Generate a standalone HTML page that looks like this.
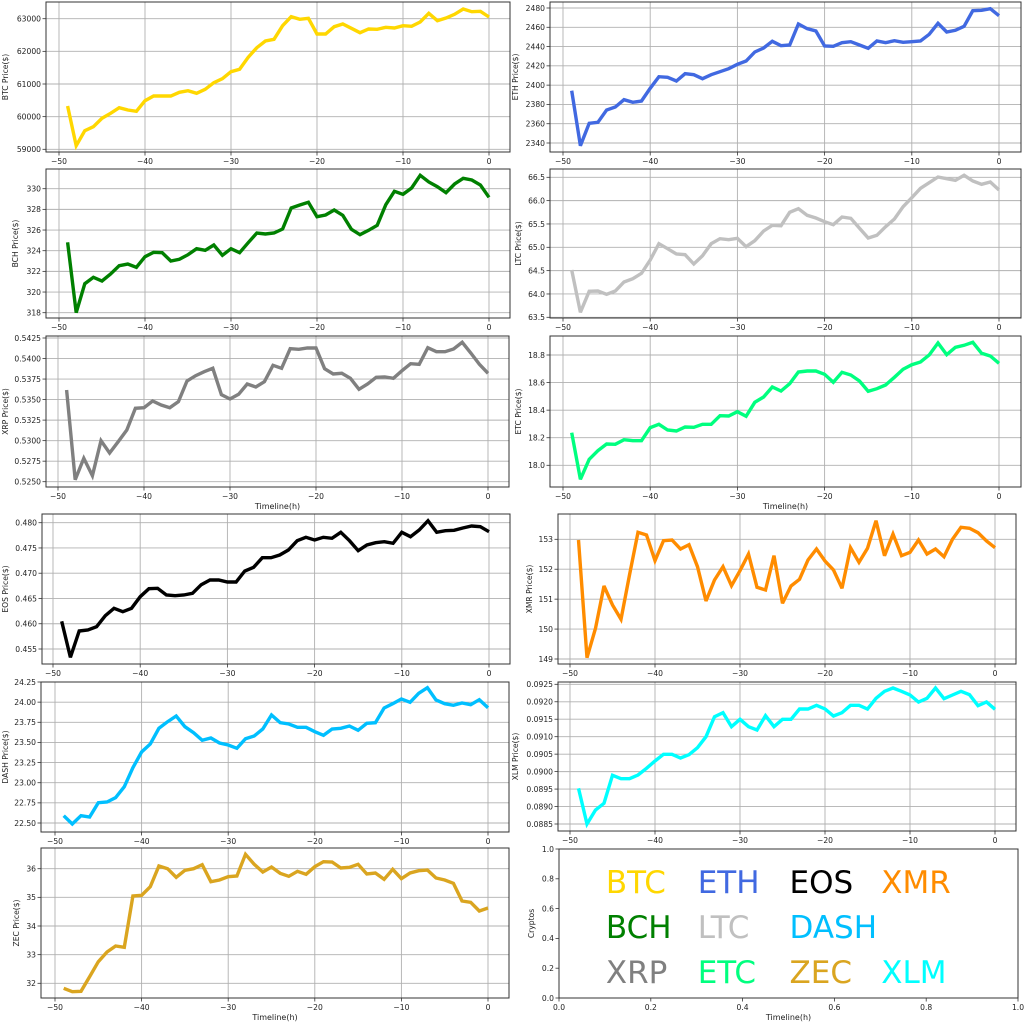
<!DOCTYPE html>
<html><head><meta charset="utf-8"><style>
html,body{margin:0;padding:0;background:#fff;}
svg{display:block;font-family:"DejaVu Sans","Liberation Sans",sans-serif;}
</style></head><body>
<svg id="s" width="1024" height="1024" viewBox="0 0 1024 1024" xmlns="http://www.w3.org/2000/svg"></svg>
<script>
const P=[
{n:"BTC Price($)",c:"#FFD700",box:[46,2,510,152],x50:59,x0:489,off:0,lx:5,
 t:[[59000,149.3],[63000,18.7]],step:1000,fmt:v=>v.toFixed(0),
 d:[318,437,392,380,355,340,323,330,334,302,288,288,288,277,272,280,268,248,236,215,208,172,143,123,118,77,50,58,55,102,102,80,72,85,98,87,88,82,84,77,79,66,40,62,54,43,27,35,34,51]},
{n:"ETH  Price($)",c:"#4169E1",box:[550,2,1021,152],x50:563,x0:999,off:0,lx:515,
 t:[[2340,143],[2480,8]],step:20,fmt:v=>v.toFixed(0),
 d:[272,437,370,367,330,321,299,307,303,265,230,232,243,221,224,236,224,215,206,193,183,156,144,124,137,135,72,86,93,138,139,128,125,135,145,123,128,122,127,125,123,103,70,96,91,79,32,31,26,47]},
{n:"BCH Price($)",c:"#008000",box:[46,169,510,318],x50:59,x0:489,off:0,lx:15,
 t:[[318,312.7],[330,188.7]],step:2,fmt:v=>v.toFixed(0),
 d:[727,938,851,832,843,822,797,792,802,770,757,758,783,778,764,746,751,735,766,746,758,728,699,702,699,687,624,615,607,650,645,630,646,688,704,691,676,614,574,583,564,526,546,560,578,552,535,540,555,592]},
{n:"LTC  Price($)",c:"#C0C0C0",box:[550,169,1021,318],x50:563,x0:999,off:0,lx:518,
 t:[[63.5,317.3],[66.5,177.3]],step:0.5,fmt:v=>v.toFixed(1),
 d:[810,937,874,873,883,873,846,836,820,780,731,746,762,764,792,767,731,716,719,715,740,722,693,676,677,637,626,646,654,665,674,651,655,685,714,706,680,657,620,593,565,548,531,536,541,526,543,553,546,570]},
{n:"XRP Price($)",c:"#808080",box:[46,336,509,487],x50:58,x0:488,off:325,lx:5,xl:1,
 t:[[0.525,481.7],[0.5425,338]],step:0.0025,fmt:v=>v.toFixed(4),
 d:[195,464,400,452,347,384,350,315,250,248,228,240,248,230,168,152,140,130,209,222,208,177,186,170,121,130,71,73,69,69,131,147,145,160,193,177,157,156,160,137,116,118,68,80,80,72,52,84,118,145]},
{n:"ETC  Price($)",c:"#00FF7F",box:[550,336,1021,487],x50:563,x0:999,off:325,lx:518,xl:1,
 t:[[18.0,465.3],[18.8,355]],step:0.2,fmt:v=>v.toFixed(1),
 d:[323,463,403,377,357,358,344,347,347,308,298,315,318,306,307,298,298,272,273,260,274,232,216,186,198,176,141,138,138,148,172,142,150,168,199,191,180,157,133,119,111,90,54,89,67,61,52,85,93,115]},
{n:"EOS  Price($)",c:"#000000",box:[42,514,510,664],x50:53,x0:489,off:480,lx:5,
 t:[[0.455,649],[0.480,522.7]],step:0.005,fmt:v=>v.toFixed(3),
 d:[424,532,453,450,440,407,385,395,385,350,326,325,345,347,345,340,314,300,300,306,306,273,262,233,233,225,210,182,172,180,172,175,157,182,212,195,188,185,190,157,170,150,122,157,152,151,144,138,140,155]},
{n:"XMR  Price($)",c:"#FF8C00",box:[558,514,1016,664],x50:570,x0:995,off:500,lx:529,
 t:[[149,659],[153,539.3]],step:1,fmt:v=>v.toFixed(0),
 d:[120,473,385,258,315,358,225,97,105,182,122,120,147,134,200,303,240,200,257,212,162,262,270,167,310,258,238,180,147,183,210,265,143,187,145,62,167,102,167,157,120,162,147,170,118,82,85,98,123,143]},
{n:"DASH  Price($)",c:"#00BFFF",box:[41,682,509,832],x50:55,x0:488,off:670,lx:5,
 t:[[22.5,823],[24.25,682]],step:0.25,fmt:v=>v.toFixed(2),
 d:[437,462,437,441,398,396,383,350,293,246,222,175,155,138,170,188,211,204,219,225,235,206,198,177,135,158,162,172,172,185,196,177,175,168,181,160,158,114,101,87,97,70,53,90,101,106,99,104,89,113]},
{n:"XLM Price($)",c:"#00FFFF",box:[558,682,1016,831],x50:570,x0:995,off:500,lx:515,
 t:[[0.0885,824],[0.0925,684.3]],step:0.0005,fmt:v=>v.toFixed(4),
 d:[865,972,930,910,826,836,836,825,805,783,763,763,774,764,743,710,650,638,680,658,680,690,647,680,658,658,627,627,616,627,648,638,616,616,627,595,574,564,574,585,606,595,564,596,585,574,584,617,606,628]},
{n:"ZEC Price($)",c:"#DAA520",box:[41,848,509,998],x50:55,x0:488,off:670,lx:16,xl:1,
 t:[[32,983.3],[36,868.7]],step:1,fmt:v=>v.toFixed(0),
 d:[955,965,964,920,875,846,828,832,678,676,650,588,596,622,601,596,584,635,630,620,618,553,583,606,591,610,619,604,613,590,575,576,594,592,583,612,609,628,598,626,609,602,600,624,630,640,693,697,723,714]}
];
let h="";
const TC="#222",FS=7.6;
function axes(b){return `<rect x="${b[0]}" y="${b[1]}" width="${b[2]-b[0]}" height="${b[3]-b[1]}" fill="none" stroke="#333" stroke-width="1"/>`;}
for(const p of P){
 const b=p.box,k=(p.x0-p.x50)/50;
 // x grid + ticks
 for(let v=-50;v<=0;v+=10){
  const x=p.x50+(v+50)*k;
  h+=`<line x1="${x}" y1="${b[1]}" x2="${x}" y2="${b[3]}" stroke="#b0b0b0" stroke-width="0.9"/>`;
  h+=`<line x1="${x}" y1="${b[3]}" x2="${x}" y2="${b[3]+3.5}" stroke="#333" stroke-width="0.8"/>`;
  h+=`<text x="${x}" y="${b[3]+12}" font-size="${FS}" fill="${TC}" text-anchor="middle">${v<0?"\u2212"+(-v):v}</text>`;
 }
 const [a,bb]=p.t,v0=a[0],y0=a[1],v1=bb[0],y1=bb[1];
 const n=Math.round((v1-v0)/p.step);
 for(let i=0;i<=n;i++){
  const v=v0+i*p.step,y=y0+(y1-y0)*i/n;
  h+=`<line x1="${b[0]}" y1="${y}" x2="${b[2]}" y2="${y}" stroke="#b0b0b0" stroke-width="0.9"/>`;
  h+=`<line x1="${b[0]-3.5}" y1="${y}" x2="${b[0]}" y2="${y}" stroke="#333" stroke-width="0.8"/>`;
  h+=`<text x="${b[0]-5}" y="${y+2.8}" font-size="${FS}" fill="${TC}" text-anchor="end">${p.fmt(v)}</text>`;
 }
 const pts=p.d.map((py,i)=>`${(p.x50+(i+1)*k).toFixed(1)},${(p.off+py/3).toFixed(1)}`).join(" ");
 h+=`<polyline points="${pts}" fill="none" stroke="${p.c}" stroke-width="3.4" stroke-linejoin="miter" stroke-miterlimit="3"/>`;
 h+=axes(b);
 const cy=(b[1]+b[3])/2;
 h+=`<text transform="translate(${p.lx+3},${cy}) rotate(-90)" font-size="${FS}" fill="${TC}" text-anchor="middle">${p.n}</text>`;
 if(p.xl) h+=`<text x="${(b[0]+b[2])/2}" y="${b[3]+22}" font-size="8" fill="${TC}" text-anchor="middle">Timeline(h)</text>`;
}
// legend panel
const L=[559,849,1018,998];
for(let i=0;i<=5;i++){
 const v=i*0.2,x=L[0]+(L[2]-L[0])*v,y=L[3]-(L[3]-L[1])*v;
 h+=`<line x1="${x}" y1="${L[3]}" x2="${x}" y2="${L[3]+3.5}" stroke="#333" stroke-width="0.8"/>`;
 h+=`<text x="${x}" y="${L[3]+12}" font-size="${FS}" fill="${TC}" text-anchor="middle">${v.toFixed(1)}</text>`;
 h+=`<line x1="${L[0]-3.5}" y1="${y}" x2="${L[0]}" y2="${y}" stroke="#333" stroke-width="0.8"/>`;
 h+=`<text x="${L[0]-5}" y="${y+2.8}" font-size="${FS}" fill="${TC}" text-anchor="end">${v.toFixed(1)}</text>`;
}
h+=axes(L);
h+=`<text transform="translate(534,${(L[1]+L[3])/2}) rotate(-90)" font-size="${FS}" fill="${TC}" text-anchor="middle">Cryptos</text>`;
h+=`<text x="${(L[0]+L[2])/2}" y="${L[3]+22}" font-size="8" fill="${TC}" text-anchor="middle">Timeline(h)</text>`;
const leg=[["BTC","#FFD700",0,0],["ETH","#4169E1",1,0],["EOS","#000000",2,0],["XMR","#FF8C00",3,0],
["BCH","#008000",0,1],["LTC","#C0C0C0",1,1],["DASH","#00BFFF",2,1],
["XRP","#808080",0,2],["ETC","#00FF7F",1,2],["ZEC","#DAA520",2,2],["XLM","#00FFFF",3,2]];
for(const [t,c,col,row] of leg){
 const x=L[0]+(L[2]-L[0])*(0.1+0.2*col),y=[893,938,983][row];
 h+=`<text x="${x+1}" y="${y}" font-size="31" fill="${c}">${t}</text>`;
}
document.getElementById("s").innerHTML=h;
</script>
</body></html>
